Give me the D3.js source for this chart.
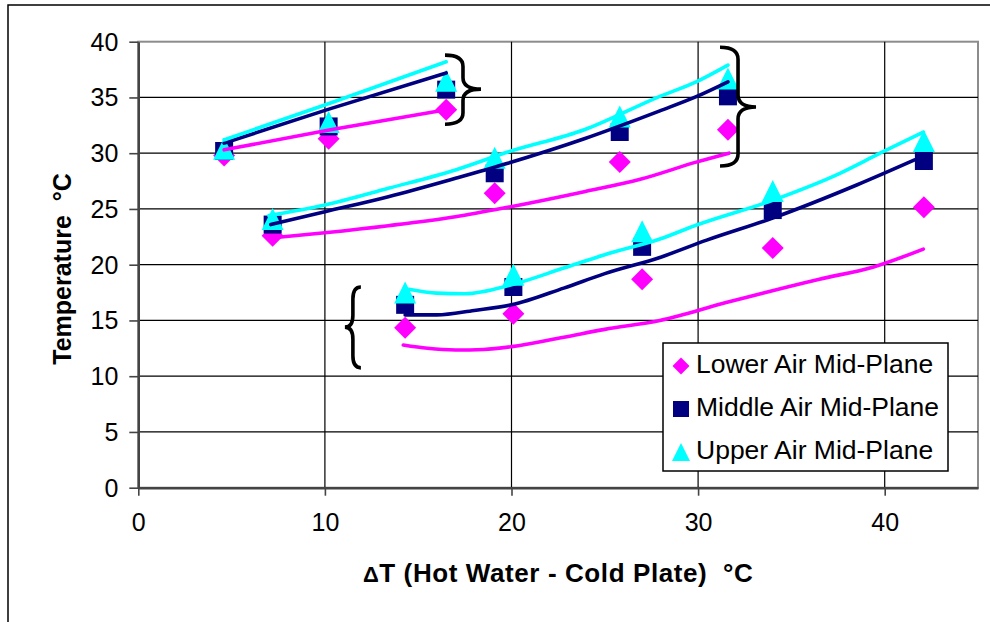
<!DOCTYPE html>
<html>
<head>
<meta charset="utf-8">
<script src="https://cdn.jsdelivr.net/npm/d3@7"></script>
<style>
  body { margin: 0; background: #fff; }
  svg { display: block; }
  text { font-family: "Liberation Sans", Arial, Helvetica, sans-serif; fill: #000; }
</style>
</head>
<body>
<svg id="chart" width="990" height="622"></svg>
<script>
// Axis ticks
const xTicks = [0, 10, 20, 30, 40];
const yTicks = [0, 5, 10, 15, 20, 25, 30, 35, 40];

// Measured air temperatures at each ΔT (°C)
const deltaT    = [4.6, 10.2, 16.5, 7.2, 19.1, 25.8, 31.6, 14.3, 20.1, 27.0, 34.0, 42.1];
const lowerAir  = [29.8, 31.3, 33.9, 22.6, 26.4, 29.2, 32.1, 14.35, 15.6, 18.7, 21.5, 25.15];
const middleAir = [30.2, 32.4, 35.7, 23.6, 28.2, 31.9, 35.1, 16.4, 18.0, 21.6, 24.9, 29.3];
const upperAir  = [30.4, 32.8, 36.5, 24.1, 29.6, 33.3, 36.7, 17.5, 19.1, 23.0, 26.6, 31.1];

// Predicted curves, one segment per water/plate group: [ΔT, T]
const lowerModel = [
  [[4.6, 30.3], [10.3, 32.1], [16.5, 33.9]],
  [[7.1, 22.4], [10, 22.87], [13.4, 23.5], [17, 24.3], [19.8, 25.15], [23.9, 26.55], [26.9, 27.66], [29.9, 29.2], [31.65, 30.0]],
  [[14.2, 12.8], [15.5, 12.5], [17, 12.35], [18.5, 12.4], [20, 12.65], [22.8, 13.5], [25, 14.2], [27.95, 15.0], [31.5, 16.6], [36.5, 18.7], [39.4, 19.8], [42.07, 21.4]]
];
const middleModel = [
  [[4.6, 30.9], [10.3, 34.0], [16.5, 37.2]],
  [[7.1, 23.6], [10, 24.75], [13.4, 26.1], [17, 27.75], [19.8, 29.1], [23.9, 31.3], [27.95, 33.8], [29.9, 35.07], [31.6, 36.4]],
  [[14.3, 15.5], [16, 15.5], [18, 15.9], [20, 16.4], [22.8, 17.9], [25, 19.2], [27.95, 20.65], [30.46, 22.2], [34.03, 24.2], [38.5, 27.15], [41.6, 29.4]]
];
const upperModel = [
  [[4.6, 31.2], [10.3, 34.5], [16.5, 38.2]],
  [[7.0, 24.4], [10, 25.35], [13.4, 26.85], [17, 28.5], [19.8, 30.1], [23.9, 32.1], [27.95, 35.1], [29.9, 36.4], [31.6, 37.9]],
  [[14.5, 17.8], [16, 17.45], [17.5, 17.4], [20, 18.2], [22.8, 19.7], [25, 20.9], [27.95, 22.3], [29.92, 23.56], [34.03, 25.8], [37.6, 28.2], [39.75, 30.0], [42.07, 31.9]]
];

// Brace annotations: spine ΔT, top/tip/bottom T, arm length (px), opening side
const braces = [
  { x: 17.4, y0: 38.8, ym: 35.75, y1: 32.6, arm: 18, dir: 1 },
  { x: 32.14, y0: 39.5, ym: 34.15, y1: 28.85, arm: 18, dir: 1 },
  { x: 11.5, y0: 18.0, ym: 14.4, y1: 10.75, arm: 8, dir: -1 }
];

const seriesNames = ["Lower Air Mid-Plane", "Middle Air Mid-Plane", "Upper Air Mid-Plane"];
const seriesColors = ["#FF00FF", "#000080", "#00FFFF"];

const svg = d3.select("#chart");
const W = 990, H = 622;
const plot = { left: 138.3, top: 41.7, right: 978, bottom: 487.7 };

const x = d3.scaleLinear().domain([0, 45]).range([plot.left, plot.right]);
const y = d3.scaleLinear().domain([0, 40]).range([plot.bottom, plot.top]);

// outer frame
svg.append("rect")
  .attr("x", 8).attr("y", 5).attr("width", W + 20).attr("height", H + 20)
  .attr("fill", "#fff").attr("stroke", "#000").attr("stroke-width", 1.5);

// plot border (grey)
svg.append("rect")
  .attr("x", plot.left).attr("y", plot.top)
  .attr("width", plot.right - plot.left).attr("height", plot.bottom - plot.top)
  .attr("fill", "none").attr("stroke", "#8c8c8c").attr("stroke-width", 2);

// gridlines
const grid = svg.append("g");
grid.selectAll(".hg").data(yTicks.filter(d => d > 0 && d < 40)).join("line")
  .attr("x1", plot.left).attr("x2", plot.right)
  .attr("y1", d => y(d)).attr("y2", d => y(d))
  .attr("stroke", "#000").attr("stroke-width", 1.2);
grid.selectAll(".vg").data(xTicks.filter(d => d > 0)).join("line")
  .attr("y1", plot.top).attr("y2", plot.bottom)
  .attr("x1", d => x(d)).attr("x2", d => x(d))
  .attr("stroke", "#000").attr("stroke-width", 1.2);

// axes
const xAxis = d3.axisBottom(x).tickValues(xTicks).tickSize(8).tickPadding(18).tickSizeOuter(0);
const yAxis = d3.axisLeft(y).tickValues(yTicks).tickSize(9).tickPadding(11).tickSizeOuter(0);

const gx = svg.append("g").attr("transform", `translate(0,${plot.bottom})`).call(xAxis);
const gy = svg.append("g").attr("transform", `translate(${plot.left},0)`).call(yAxis);
[gx, gy].forEach(g => {
  g.select(".domain").attr("stroke", "#444").attr("stroke-width", 2.4);
  g.selectAll(".tick line").attr("stroke", "#444").attr("stroke-width", 1.6);
  g.selectAll(".tick text").attr("font-size", 25).attr("fill", "#000")
    .style("font-family", '"Liberation Sans", Arial, sans-serif');
});
gx.selectAll(".tick text").attr("dy", "0.71em");
gy.selectAll(".tick text").attr("dy", "0.34em");

// marker shapes
function markerPath(kind, s) {
  const h = s / 2;
  if (kind === 0) return `M0,${-h}L${h},0L0,${h}L${-h},0Z`;          // diamond
  if (kind === 1) return `M${-h},${-h}H${h}V${h}H${-h}Z`;            // square
  return `M0,${-h}L${h},${h}L${-h},${h}Z`;                           // triangle
}
const markerSize = [22, 18, 22];

const seriesValues = [lowerAir, middleAir, upperAir];
seriesValues.forEach((vals, i) => {
  svg.append("g").selectAll("path").data(vals).join("path")
    .attr("transform", (d, j) => `translate(${x(deltaT[j])},${y(d)})`)
    .attr("d", markerPath(i, markerSize[i]))
    .attr("fill", seriesColors[i]);
});

// model lines
const line = d3.line().x(d => x(d[0])).y(d => y(d[1])).curve(d3.curveMonotoneX);
[lowerModel, middleModel, upperModel].forEach((segs, i) => {
  svg.append("g").selectAll("path").data(segs).join("path")
    .attr("d", line)
    .attr("fill", "none")
    .attr("stroke", seriesColors[i])
    .attr("stroke-width", 3.6)
    .attr("stroke-linecap", "round")
    .attr("stroke-linejoin", "round");
});

// braces
svg.append("g").selectAll("path").data(braces).join("path")
  .attr("d", b => {
    const xs = x(b.x), e = xs - b.dir * b.arm, t = xs + b.dir * b.arm;
    const y0 = y(b.y0), ym = y(b.ym), y1 = y(b.y1);
    const r = Math.min(12, (ym - y0) / 3);
    return `M${e},${y0}Q${xs},${y0} ${xs},${y0 + r}L${xs},${ym - r}Q${xs},${ym} ${t},${ym}` +
           `Q${xs},${ym} ${xs},${ym + r}L${xs},${y1 - r}Q${xs},${y1} ${e},${y1}`;
  })
  .attr("fill", "none").attr("stroke", "#000").attr("stroke-width", 3.6);

// legend
const lg = svg.append("g").attr("transform", "translate(663,343)");
lg.append("rect").attr("width", 285).attr("height", 128)
  .attr("fill", "#fff").attr("stroke", "#000").attr("stroke-width", 1.5);
const legendSize = [17, 16, 18];
seriesNames.forEach((name, i) => {
  const cy = 23 + i * 43;
  lg.append("path").attr("transform", `translate(18,${cy})`)
    .attr("d", markerPath(i, legendSize[i])).attr("fill", seriesColors[i]);
  lg.append("text").attr("x", 33).attr("y", cy + 7).attr("font-size", 26.5).text(name);
});

// axis titles
svg.append("text")
  .attr("transform", `translate(71,269) rotate(-90)`)
  .attr("text-anchor", "middle")
  .attr("font-size", 25).attr("font-weight", "bold")
  .style("white-space", "pre")
  .text("Temperature  °C");

const xt = svg.append("text")
  .attr("x", (plot.left + plot.right) / 2).attr("y", 582)
  .attr("text-anchor", "middle")
  .attr("font-size", 26).attr("font-weight", "bold")
  .attr("letter-spacing", 0.6)
  .style("white-space", "pre");
xt.append("tspan").attr("font-size", 22).text("Δ");
xt.append("tspan").text("T (Hot Water - Cold Plate)  °C");
</script>
</body>
</html>
